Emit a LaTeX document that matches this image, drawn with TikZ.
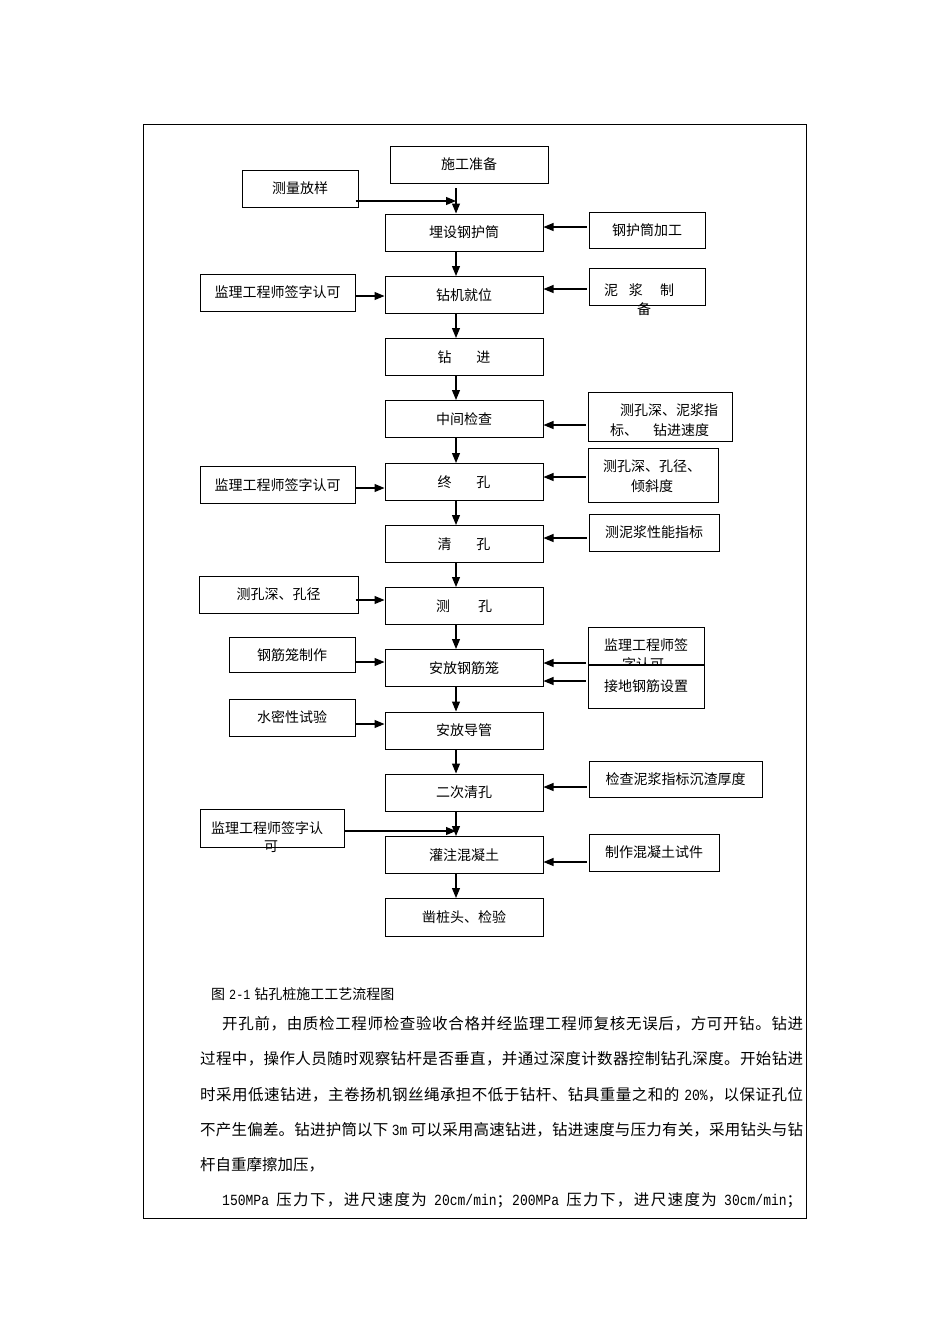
\documentclass[tikz,border=0pt]{standalone}
\usepackage{fontspec}
\setmainfont{Liberation Serif}
\newfontfamily\cjk{Noto Sans CJK SC}
\newfontfamily\lat{Liberation Mono}[FakeStretch=0.84]
\usetikzlibrary{arrows.meta,calc}
\newcount\mycnt
\mycnt="4E00
\loop\ifnum\mycnt<"A000 \XeTeXcharclass\mycnt=201\relax\advance\mycnt by 1\relax\repeat
\XeTeXcharclass"FF0C=202
\XeTeXcharclass"3001=202
\XeTeXcharclass"3002=202
\XeTeXcharclass"FF1B=202
\XeTeXinterchartoks 201 201 = {\hskip 0pt plus 1pt\relax}
\XeTeXinterchartoks 201 202 = {\hskip 0pt plus 1pt\relax}
\XeTeXinterchartoks 202 201 = {\hskip 0pt plus 1pt\relax}
\newcommand\pline[2]{{\XeTeXinterchartokenstate=1 \hbox to #1{#2}}}
\begin{document}
\begin{tikzpicture}[x=1pt,y=-1pt,
 bx/.style={draw, line width=1pt, inner sep=0pt, fill=white, font=\cjk\fontsize{14}{16}\selectfont},
 sz/.style 2 args={minimum width=#1pt, minimum height=#2pt},
 tx/.style={inner sep=0pt, font=\cjk\fontsize{14}{16}\selectfont},
 ptx/.style={inner sep=0pt, anchor=west, font=\cjk\fontsize{15.5}{18}\selectfont},
 arr/.style={line width=1.1pt, -{Triangle[length=10pt,width=8pt]}}]
\useasboundingbox (0,0) rectangle (950,1344);
\fill[white] (0,0) rectangle (950,1344);
\draw[line width=1pt] (143,124) rectangle (806,1218);

% main column
\node[bx, sz={158}{37}] (m0) at (469,164.5) {施工准备};
\node[bx, sz={158}{37}] (m1) at (464,232.5) {埋设钢护筒};
\node[bx, sz={158}{37}] (m2) at (464,295) {钻机就位};
\node[bx, sz={158}{37}] (m3) at (464,357) {钻\hspace{25pt}进};
\node[bx, sz={158}{37}] (m4) at (464,419) {中间检查};
\node[bx, sz={158}{37}] (m5) at (464,482) {终\hspace{25pt}孔};
\node[bx, sz={158}{37}] (m6) at (464,544) {清\hspace{25pt}孔};
\node[bx, sz={158}{37}] (m7) at (464,606) {测\hspace{28pt}孔};
\node[bx, sz={158}{37}] (m8) at (464,668) {安放钢筋笼};
\node[bx, sz={158}{37}] (m9) at (464,730.5) {安放导管};
\node[bx, sz={158}{37}] (m10) at (464,792.5) {二次清孔};
\node[bx, sz={158}{37}] (m11) at (464,855) {灌注混凝土};
\node[bx, sz={158}{38}] (m12) at (464,917.5) {凿桩头、检验};

% left column
\node[bx, sz={116}{37}] (l1) at (300,188.5) {测量放样};
\node[bx, sz={155}{37}] (l2) at (277.5,292.5) {监理工程师签字认可};
\node[bx, sz={155}{37}] (l3) at (277.5,485) {监理工程师签字认可};
\node[bx, sz={159}{37}] (l4) at (278.5,594.5) {测孔深、孔径};
\node[bx, sz={126}{35}] (l5) at (292,655) {钢筋笼制作};
\node[bx, sz={126}{37}] (l6) at (292,717.5) {水密性试验};
\node[bx, sz={144}{38}] (l7) at (272,828) {};
\node[tx, anchor=west] (l7a) at (211,828) {监理工程师签字认};
\node[tx] (l7b) at (271,847) {可};

% right column
\node[bx, sz={116}{36}] (r1) at (647,230) {钢护筒加工};
\node[bx, sz={116}{37}] (r2) at (647,287) {};
\node[tx] (r2a) at (639,290) {泥\hspace{11pt}浆\hspace{17pt}制};
\node[tx] (r2b) at (644,309) {备};
\node[bx, sz={144}{49}] (r3) at (660,416.5) {};
\node[tx, anchor=west] (r3a) at (620,410) {测孔深、泥浆指};
\node[tx, anchor=west] (r3b) at (610,430) {标、\hspace{15pt}钻进速度};
\node[bx, sz={130}{54}] (r4) at (653,475) {};
\node[tx, anchor=west] (r4a) at (603,466) {测孔深、孔径、};
\node[tx] (r4b) at (652,486) {倾斜度};
\node[bx, sz={130}{37}] (r5) at (654,532.5) {测泥浆性能指标};
\node[bx, sz={116}{37}] (r6) at (646,645.5) {};
\node[tx] (r6a) at (646,645) {监理工程师签};
\node[tx] (r6b) at (643,664) {字认可};
\node[bx, sz={116}{43}] (r7) at (646,686.5) {接地钢筋设置};
\node[bx, sz={173}{36}] (r8) at (675.5,779) {检查泥浆指标沉渣厚度};
\node[bx, sz={130}{37}] (r9) at (654,852.5) {制作混凝土试件};

% vertical connectors
\coordinate (vx) at (456,0);
\coordinate (s0) at (456,188);
\draw[arr] (s0) -- (m1.north -| vx);
\foreach \a/\b in {m1/m2,m2/m3,m3/m4,m4/m5,m5/m6,m6/m7,m7/m8,m8/m9,m9/m10,m10/m11,m11/m12}
  \draw[arr] (\a.south -| vx) -- (\b.north -| vx);

% left connectors
\coordinate (a1) at ($(l1.east)+(-3,12.5)$);
\draw[arr] (a1) -- (a1 -| vx);
\coordinate (a2) at ($(l2.east)+(0,3.5)$);
\draw[arr] (a2) -- (a2 -| m2.west);
\coordinate (a3) at ($(l3.east)+(0,3)$);
\draw[arr] (a3) -- (a3 -| m5.west);
\coordinate (a4) at ($(l4.east)+(-3,5.5)$);
\draw[arr] (a4) -- (a4 -| m7.west);
\coordinate (a5) at ($(l5.east)+(0,7)$);
\draw[arr] (a5) -- (a5 -| m8.west);
\coordinate (a6) at ($(l6.east)+(0,6.5)$);
\draw[arr] (a6) -- (a6 -| m9.west);
\coordinate (a7) at ($(l7.east)+(0,3)$);
\draw[arr] (a7) -- (a7 -| vx);

% right connectors
\coordinate (b1) at ($(r1.west)+(-2,-3)$);
\draw[arr] (b1) -- (b1 -| m1.east);
\coordinate (b2) at ($(r2.west)+(-2,2)$);
\draw[arr] (b2) -- (b2 -| m2.east);
\coordinate (b3) at ($(r3.west)+(-2,8.5)$);
\draw[arr] (b3) -- (b3 -| m4.east);
\coordinate (b4) at ($(r4.west)+(-2,2)$);
\draw[arr] (b4) -- (b4 -| m5.east);
\coordinate (b5) at ($(r5.west)+(-2,5.5)$);
\draw[arr] (b5) -- (b5 -| m6.east);
\coordinate (b6) at ($(r6.west)+(-2,17.5)$);
\draw[arr] (b6) -- (b6 -| m8.east);
\coordinate (b7) at ($(r7.west)+(-2,-5.5)$);
\draw[arr] (b7) -- (b7 -| m8.east);
\coordinate (b8) at ($(r8.west)+(-2,8)$);
\draw[arr] (b8) -- (b8 -| m10.east);
\coordinate (b9) at ($(r9.west)+(-2,9.5)$);
\draw[arr] (b9) -- (b9 -| m11.east);

% caption and text
\node[tx, anchor=west] (cap) at (211,994) {图\hspace{4pt}{\lat 2-1}\hspace{4pt}钻孔桩施工工艺流程图};
\node[ptx] (p1) at (222,1024) {\pline{581pt}{开孔前，由质检工程师检查验收合格并经监理工程师复核无误后，方可开钻。钻进}};
\node[ptx] (p2) at (200,1059) {\pline{603pt}{过程中，操作人员随时观察钻杆是否垂直，并通过深度计数器控制钻孔深度。开始钻进}};
\node[ptx] (p3) at (200,1094.5) {\pline{603pt}{时采用低速钻进，主卷扬机钢丝绳承担不低于钻杆、钻具重量之和的\hspace{4pt plus 2pt}{\lat 20\%}，以保证孔位}};
\node[ptx] (p4) at (200,1129.6) {\pline{603pt}{不产生偏差。钻进护筒以下\hspace{3pt plus 2pt}{\lat 3m}\hspace{3pt plus 2pt}可以采用高速钻进，钻进速度与压力有关，采用钻头与钻}};
\node[ptx] (p5) at (200,1164.8) {杆自重摩擦加压，};
\node[ptx] (p6) at (222,1200) {\pline{580pt}{{\lat 150MPa}\hspace{3pt plus 3pt}压力下，进尺速度为\hspace{3pt plus 3pt}{\lat 20cm/min}；{\lat 200MPa}\hspace{3pt plus 3pt}压力下，进尺速度为\hspace{3pt plus 3pt}{\lat 30cm/min}；}};
\end{tikzpicture}
\end{document}
